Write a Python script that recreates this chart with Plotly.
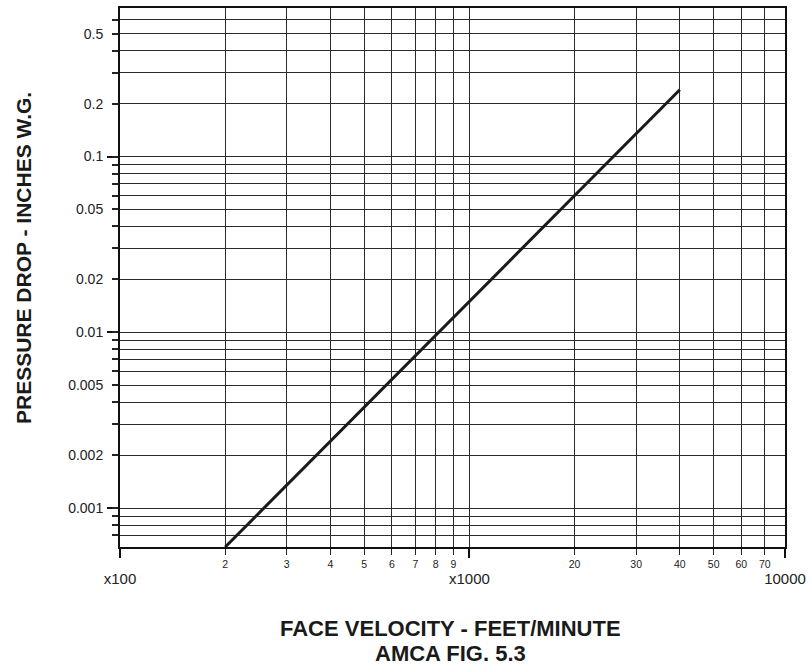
import plotly.graph_objects as go
import numpy as np

# ---- data ----
velocity = [200, 4000]          # feet/minute
pressure = [0.0006, 0.24]       # inches W.G.

x_tick_vals = [200, 300, 400, 500, 600, 700, 800, 900,
               1000, 2000, 3000, 4000, 5000, 6000, 7000]
x_tick_text = ["2", "3", "4", "5", "6", "7", "8", "9",
               "", "20", "30", "40", "50", "60", "70"]
x_major_vals = [100, 1000, 8000]
x_major_text = ["x100", "x1000", "10000"]

y_tick_vals = [0.0007, 0.0008, 0.0009,
               0.001, 0.002, 0.003, 0.004, 0.005, 0.006, 0.007, 0.008, 0.009,
               0.01, 0.02, 0.03, 0.04, 0.05, 0.06, 0.07, 0.08, 0.09,
               0.1, 0.2, 0.3, 0.4, 0.5, 0.6]
y_labels = {0.001: "0.001", 0.002: "0.002", 0.005: "0.005",
            0.01: "0.01", 0.02: "0.02", 0.05: "0.05",
            0.1: "0.1", 0.2: "0.2", 0.5: "0.5"}
y_tick_text = [y_labels.get(v, "") for v in y_tick_vals]
y_major_vals = [0.001, 0.01, 0.1]

x_range = [100, 8000]
y_range = [0.0006, 0.7]

FONT = "Liberation Sans, Arial, Helvetica, sans-serif"
GRID = "#2b2b2b"

fig = go.Figure()
fig.add_trace(go.Scatter(x=velocity, y=pressure, mode="lines",
                         line=dict(color="#1a1a1a", width=3), showlegend=False,
                         hoverinfo="skip"))
# invisible companion trace so the second (label) axis is drawn
fig.add_trace(go.Scatter(x=velocity, y=pressure, mode="lines", xaxis="x2",
                         line=dict(width=0), opacity=0, showlegend=False,
                         hoverinfo="skip"))

fig.update_layout(
    width=812, height=669,
    margin=dict(l=120, r=22, t=6, b=122),
    paper_bgcolor="white", plot_bgcolor="white",
    font=dict(family=FONT, color="#222"),
    showlegend=False,
)

fig.update_layout(
    xaxis=dict(
        type="log", range=[np.log10(x_range[0]), np.log10(x_range[1])],
        tickmode="array", tickvals=x_tick_vals, ticktext=x_tick_text,
        tickangle=0,
        tickfont=dict(size=10.5, color="#222", family=FONT),
        ticks="outside", ticklen=6, tickwidth=1, tickcolor="#222",
        ticklabelstandoff=0,
        showgrid=True, gridcolor=GRID, gridwidth=1,
        showline=True, linecolor="#111", linewidth=2, mirror=True,
        zeroline=False,
    ),
    xaxis2=dict(
        type="log", range=[np.log10(x_range[0]), np.log10(x_range[1])],
        overlaying="x", anchor="y", side="bottom",
        tickmode="array", tickvals=x_major_vals, ticktext=x_major_text,
        tickangle=0,
        tickfont=dict(size=15, color="#222", family=FONT),
        ticks="outside", ticklen=10, tickwidth=2, tickcolor="#111",
        ticklabelstandoff=8,
        showgrid=False, showline=False, zeroline=False,
    ),
)
fig.update_yaxes(
    type="log", range=[np.log10(y_range[0]), np.log10(y_range[1])],
    tickmode="array", tickvals=y_tick_vals, ticktext=y_tick_text,
    tickfont=dict(size=14, color="#222", family=FONT),
    ticks="outside", ticklen=6, tickwidth=1.5, tickcolor="#222",
    ticklabelstandoff=6,
    showgrid=True, gridcolor=GRID, gridwidth=1,
    showline=True, linecolor="#111", linewidth=2, mirror=True,
    minor=dict(tickmode="array", tickvals=y_major_vals, ticks="outside",
               ticklen=11, tickwidth=2, tickcolor="#111", showgrid=False),
    zeroline=False,
)

fig.add_annotation(text="<b>PRESSURE DROP - INCHES W.G.</b>", xref="paper", yref="paper",
                   x=-0.146, y=0.536, xanchor="center", yanchor="middle",
                   textangle=-90, showarrow=False,
                   font=dict(size=21, family=FONT, color="#1a1a1a"))
fig.add_annotation(text="<b>FACE VELOCITY - FEET/MINUTE</b>", xref="paper", yref="paper",
                   x=0.497, y=-0.1516, xanchor="center", yanchor="middle",
                   showarrow=False, font=dict(size=22, family=FONT, color="#1a1a1a"))
fig.add_annotation(text="<b>AMCA FIG. 5.3</b>", xref="paper", yref="paper",
                   x=0.497, y=-0.1978, xanchor="center", yanchor="middle",
                   showarrow=False, font=dict(size=22, family=FONT, color="#1a1a1a"))

fig.write_html("out.html", config={"displayModeBar": False},
               post_script="document.body.style.margin='0px';document.body.style.overflow='hidden';")
